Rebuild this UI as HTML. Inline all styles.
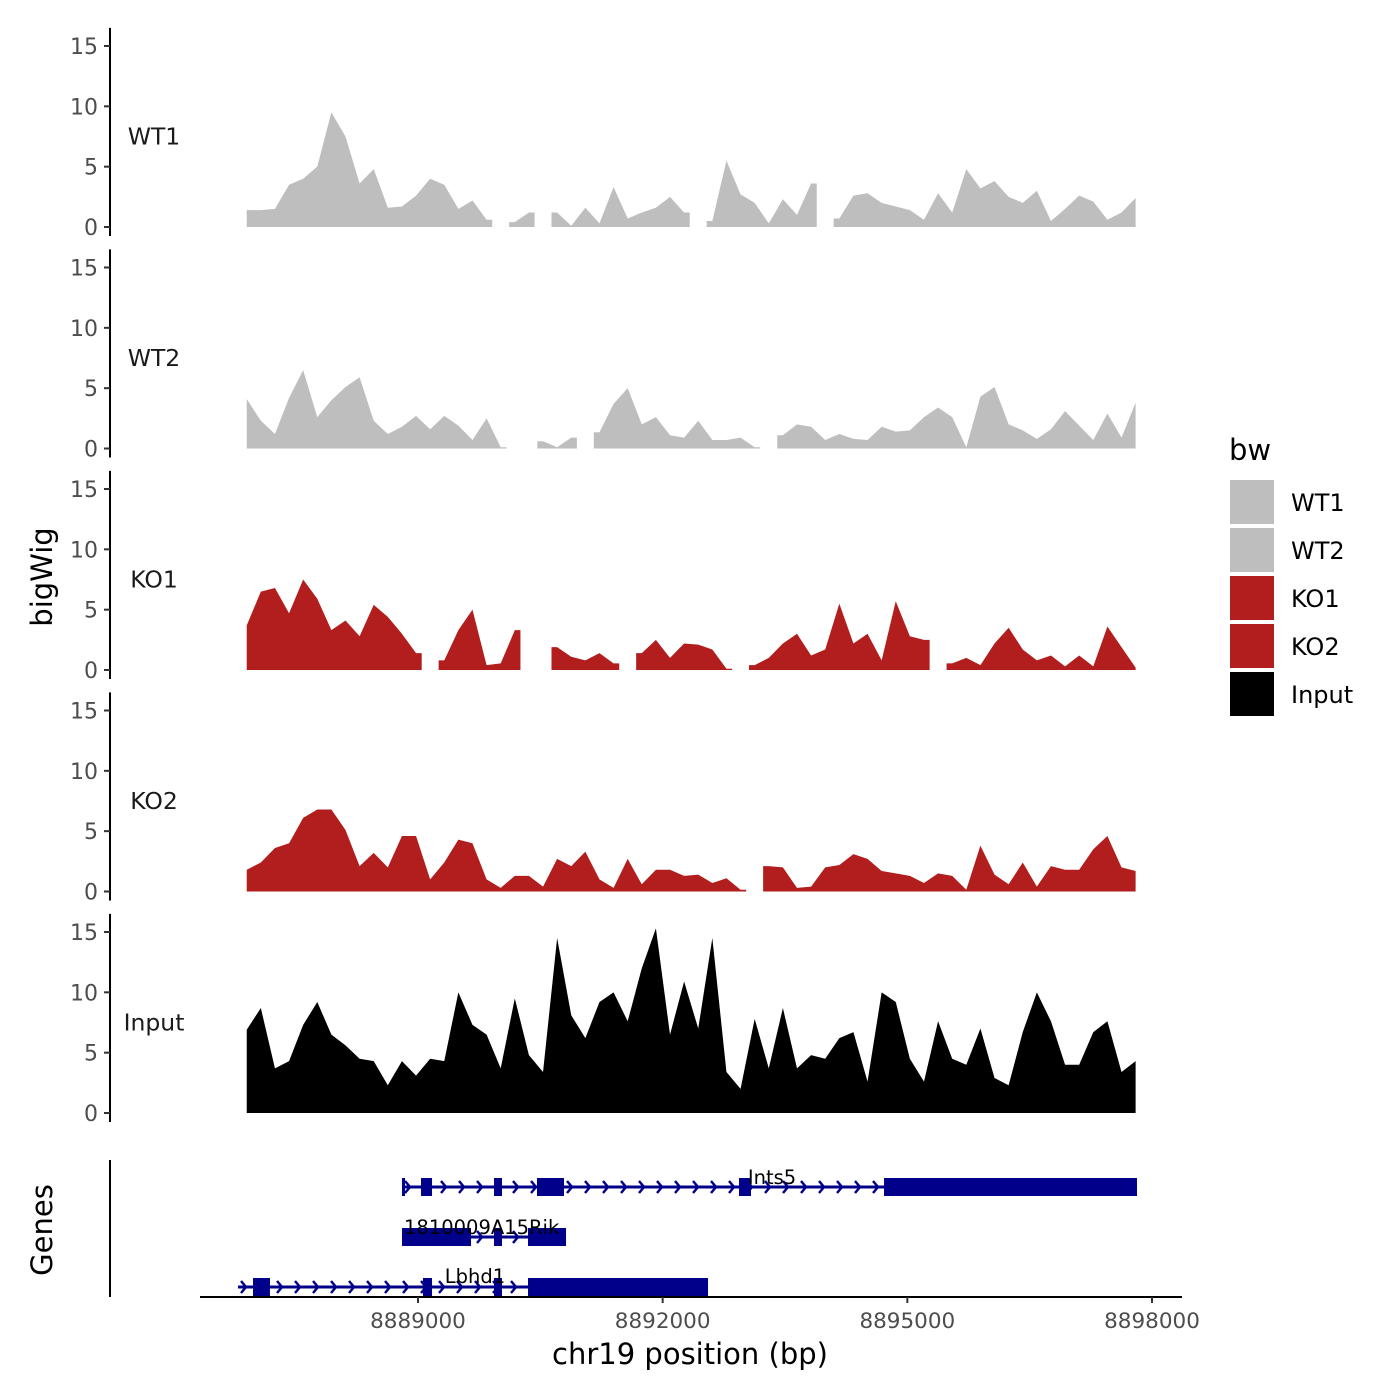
<!DOCTYPE html>
<html><head><meta charset="utf-8"><style>
html,body{margin:0;padding:0;background:#fff;}
svg{display:block;font-family:"DejaVu Sans","Liberation Sans",sans-serif;}
</style></head><body>
<svg id="c" width="1400" height="1400" viewBox="0 0 1400 1400" style="position:absolute;left:0;top:0;"></svg>
<script>
// ---- data ----
const trackNames = ["WT1","WT2","KO1","KO2","Input"];
const trackColors = ["#bebebe","#bebebe","#b21e1e","#b21e1e","#000000"];
const binStart = 8886900;
const binStep = 173;
const wt1 = [1.4,1.4,1.5,3.5,4.0,5.0,9.5,7.5,3.6,4.8,1.6,1.7,2.6,4.0,3.5,1.5,2.2,0.6,null,0.4,1.2,null,1.2,0.1,1.6,0.3,3.3,0.7,1.2,1.6,2.5,1.2,null,0.5,5.5,2.7,2.0,0.3,2.3,1.0,3.6,null,0.7,2.6,2.8,2.0,1.7,1.4,0.6,2.8,1.2,4.8,3.2,3.8,2.5,2.0,3.0,0.5,1.5,2.6,2.1,0.6,1.2,2.4];
const wt2 = [4.1,2.3,1.2,4.2,6.5,2.6,4.0,5.1,5.9,2.3,1.2,1.8,2.7,1.6,2.7,1.9,0.7,2.5,0.1,null,null,0.6,0.1,0.9,null,1.35,3.7,5.0,2.0,2.6,1.1,0.9,2.3,0.7,0.7,0.9,0.1,null,1.1,2.0,1.8,0.7,1.2,0.8,0.7,1.8,1.4,1.5,2.6,3.4,2.6,0.1,4.3,5.1,2.0,1.5,0.8,1.6,3.1,1.9,0.7,2.9,0.9,3.8];
const ko1 = [3.7,6.5,6.8,4.7,7.5,5.9,3.3,4.1,2.8,5.4,4.4,3.0,1.4,null,0.8,3.3,5.0,0.4,0.55,3.3,null,null,1.9,1.1,0.8,1.4,0.55,null,1.4,2.5,1.0,2.2,2.1,1.7,0.1,null,0.4,1.0,2.2,3.0,1.2,1.7,5.5,2.2,3.0,0.8,5.7,2.8,2.5,null,0.55,1.0,0.4,2.2,3.5,1.7,0.8,1.2,0.3,1.2,0.3,3.6,1.9,0.2];
const ko2 = [1.8,2.4,3.6,4.0,6.1,6.8,6.8,5.1,2.1,3.2,2.0,4.6,4.6,1.0,2.4,4.3,4.0,1.0,0.3,1.3,1.3,0.4,2.7,2.1,3.3,1.0,0.3,2.7,0.6,1.8,1.8,1.3,1.4,0.7,1.1,0.15,null,2.1,2.0,0.3,0.4,2.0,2.2,3.1,2.7,1.7,1.5,1.3,0.7,1.5,1.3,0.15,3.8,1.4,0.6,2.4,0.4,2.1,1.8,1.8,3.5,4.6,2.0,1.7];
const input = [6.9,8.7,3.7,4.3,7.3,9.2,6.5,5.6,4.5,4.3,2.3,4.3,3.1,4.5,4.3,10.0,7.3,6.5,3.7,9.5,4.8,3.4,14.5,8.1,6.2,9.2,10.0,7.6,12.0,15.3,6.5,10.9,7.0,14.5,3.4,2.0,7.8,3.7,8.7,3.7,4.8,4.5,6.2,6.7,2.6,10.0,9.2,4.5,2.6,7.6,4.5,4.0,7.0,2.9,2.3,6.7,10.0,7.6,4.0,4.0,6.7,7.6,3.4,4.3];
const yTicks = [0,5,10,15];
const xTicks = [8889000,8892000,8895000,8898000];
const xTickLabels = ["8889000","8892000","8895000","8898000"];
const geneNames = ["Ints5","1810009A15Rik","Lbhd1"];
const geneStarts = [8888804,8888804,8886793];
const geneEnds = [8897816,8890815,8892556];
const geneExons = [
  [[8888804,8888830],[8889037,8889172],[8889932,8890030],[8890459,8890790],[8892936,8893083],[8894714,8897816]],
  [[8888804,8889650],[8889932,8890030],[8890349,8890815]],
  [[8886977,8887185],[8889061,8889172],[8889932,8890030],[8890349,8892556]]
];
const seriesVals = [wt1,wt2,ko1,ko2,input];

// ---- scales ----
const X = bp => 418 + (bp - 8889000) * (244.67/3000);
const panelBase = [227,448.5,670,891.5,1113];
const Y = (p,v) => panelBase[p] - v * (181/15);
const NS = "http://www.w3.org/2000/svg";
const svg = document.getElementById('c');
function mk(tag, attrs, parent){const e=document.createElementNS(NS,tag);for(const k in attrs)e.setAttribute(k,attrs[k]);(parent||svg).appendChild(e);return e;}
const n = wt1.length;

seriesVals.forEach((vals,p)=>{
  const g = mk('g',{});
  
  
  let run=[];
  const flush=()=>{
    if(run.length){
      const first=run[0], last=run[run.length-1];
      const x0=X(binStart+(first>0?first-0.4:first)*binStep);
      const x1=X(binStart+(last<n-1?last+0.4:last)*binStep);
      let d=`M${x0},${panelBase[p]} L${x0},${Y(p,vals[first])}`;
      run.forEach(i=>{d+=` L${X(binStart+i*binStep)},${Y(p,vals[i])}`;});
      d+=` L${x1},${Y(p,vals[last])} L${x1},${panelBase[p]} Z`;
      const a=mk('path',{d:d,fill:trackColors[p]},g);
      
      
    }
    run=[];
  };
  vals.forEach((v,i)=>{ if(v===null) flush(); else run.push(i); });
  flush();
  const ax = mk('g',{},g);
  
  
  mk('line',{x1:110,x2:110,y1:Y(p,16.5),y2:panelBase[p]+9,stroke:'#000','stroke-width':2},ax);
  yTicks.forEach(t=>{
    mk('line',{x1:104,x2:110,y1:Y(p,t),y2:Y(p,t),stroke:'#333','stroke-width':2},ax);
    const tx=mk('text',{x:98,y:Y(p,t)+8,'text-anchor':'end','font-size':22,fill:'#4d4d4d'},ax);
    tx.textContent=t;
    
    
  });
  const lb=mk('text',{x:154,y:Y(p,7.5)+8,'text-anchor':'middle','font-size':23.5,fill:'#1a1a1a'},g);
  lb.textContent=trackNames[p];
  
  
});

// ---- genes ----
const gg = mk('g',{});


mk('line',{x1:110,x2:110,y1:1160,y2:1297,stroke:'#000','stroke-width':2},gg);
const rowY=[1187,1237,1287];
const navy="#00008b";
geneNames.forEach((nm,r)=>{
  const g=mk('g',{},gg);
  
  
  const y=rowY[r], xs=X(geneStarts[r]), xe=X(geneEnds[r]);
  mk('line',{x1:xs,x2:xe,y1:y,y2:y,stroke:navy,'stroke-width':3},g);
  for(let x=xs+6;x<xe-4;x+=18){
    mk('path',{d:`M${x-3},${y-6} L${x+2},${y} L${x-3},${y+6}`,fill:'none',stroke:navy,'stroke-width':2.5},g);
  }
  geneExons[r].forEach(e=>{
    const ex=mk('rect',{x:X(e[0]),y:y-9,width:Math.max(3,X(e[1])-X(e[0])),height:18,fill:navy},g);
    
    
  });
});
const glab=[["Ints5",772,1184,'middle'],["1810009A15Rik",404,1234,'start'],["Lbhd1",475,1283,'middle']];
glab.forEach(l=>{
  const t=mk('text',{x:l[1],y:l[2],'text-anchor':l[3],'font-size':19.5,fill:'#000'},gg);
  t.textContent=l[0];
  
  
});

// ---- x axis ----
const xa=mk('g',{});


mk('line',{x1:200,x2:1182,y1:1297,y2:1297,stroke:'#000','stroke-width':2},xa);
xTicks.forEach((t,i)=>{
  mk('line',{x1:X(t),x2:X(t),y1:1297,y2:1303,stroke:'#333','stroke-width':2},xa);
  const tx=mk('text',{x:X(t),y:1328,'text-anchor':'middle','font-size':21.5,fill:'#4d4d4d'},xa);
  tx.textContent=xTickLabels[i];
  
  
});
</script>
<svg width="1400" height="1400" style="position:absolute;left:0;top:0;pointer-events:none;font-family:'DejaVu Sans','Liberation Sans',sans-serif;">
  <text x="690" y="1364" text-anchor="middle" font-size="29" fill="#000">chr19 position (bp)</text>
  <text x="0" y="0" transform="translate(52,577) rotate(-90)" text-anchor="middle" font-size="29" fill="#000">bigWig</text>
  <text x="0" y="0" transform="translate(52,1230) rotate(-90)" text-anchor="middle" font-size="29" fill="#000">Genes</text>
  <g>
    <text x="1229" y="460" font-size="29" fill="#000">bw</text>
    <rect x="1230" y="480" width="44" height="44" fill="#bebebe"/>
    <rect x="1230" y="528" width="44" height="44" fill="#bebebe"/>
    <rect x="1230" y="576" width="44" height="44" fill="#b21e1e"/>
    <rect x="1230" y="624" width="44" height="44" fill="#b21e1e"/>
    <rect x="1230" y="672" width="44" height="44" fill="#000000"/>
    <text x="1291" y="511" font-size="24" fill="#000">WT1</text>
    <text x="1291" y="559" font-size="24" fill="#000">WT2</text>
    <text x="1291" y="607" font-size="24" fill="#000">KO1</text>
    <text x="1291" y="655" font-size="24" fill="#000">KO2</text>
    <text x="1291" y="703" font-size="24" fill="#000">Input</text>
  </g>
</svg>
</body></html>
